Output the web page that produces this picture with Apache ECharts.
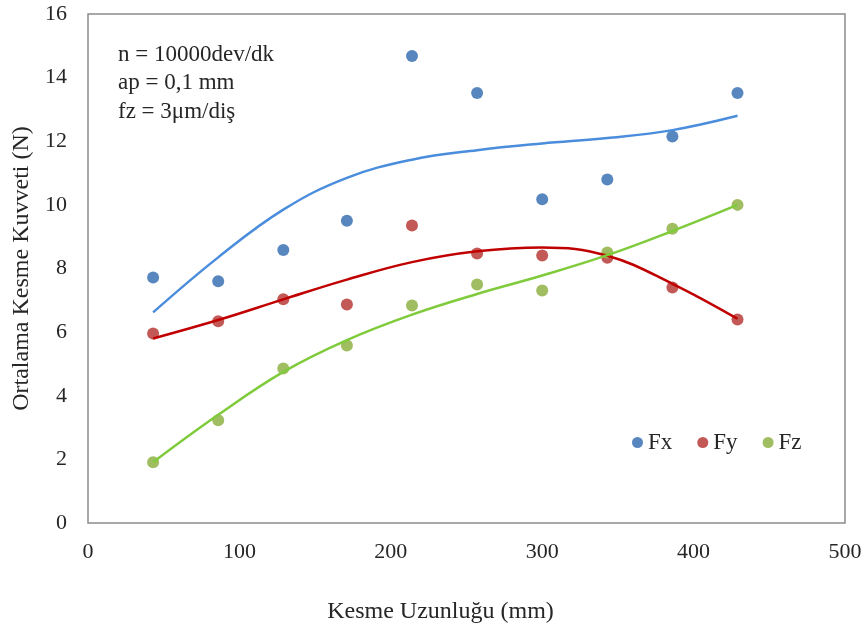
<!DOCTYPE html>
<html>
<head>
<meta charset="utf-8">
<script src="https://cdn.jsdelivr.net/npm/echarts@6/dist/echarts.min.js"></script>
<style>
  html, body { margin: 0; padding: 0; background: #fff; }
  #main { width: 866px; height: 629px; }
</style>
</head>
<body>
<div id="main"></div>
<script>
// cutting length (mm)
let lengths = [43, 86, 129, 171, 214, 257, 300, 343, 386, 429];

// measured mean forces (N)
let fx = [7.72, 7.60, 8.58, 9.50, 14.68, 13.52, 10.18, 10.80, 12.15, 13.52];
let fy = [5.96, 6.34, 7.03, 6.87, 9.35, 8.47, 8.41, 8.34, 7.40, 6.40];
let fz = [1.91, 3.23, 4.86, 5.58, 6.84, 7.50, 7.31, 8.50, 9.25, 10.00];

// trend curves, at the same lengths
let fxTrend = [6.62, 8.35, 9.85, 10.85, 11.42, 11.72, 11.93, 12.10, 12.35, 12.80];
let fyTrend = [5.80, 6.38, 7.03, 7.65, 8.20, 8.54, 8.66, 8.40, 7.52, 6.42];
let fzTrend = [1.91, 3.40, 4.75, 5.75, 6.55, 7.20, 7.78, 8.42, 9.18, 10.00];

let xTicks = [0, 100, 200, 300, 400, 500];
let yTicks = [0, 2, 4, 6, 8, 10, 12, 14, 16];

let notes = ['n = 10000dev/dk', 'ap = 0,1 mm', 'fz = 3\u03bcm/di\u015f'];

let pairs = function(xs, ys){
    let out = [];
    for (let i = 0; i < xs.length; i++) out.push([xs[i], ys[i]]);
    return out;
};

let font = '"Liberation Serif", "Times New Roman", serif';
let textColor = '#262626';

let chart = echarts.init(document.getElementById('main'), null, {renderer: 'canvas'});

let scatter = function(name, ys, color){
    return {
        name: name, type: 'scatter', data: pairs(lengths, ys),
        symbolSize: 12, z: 2,
        itemStyle: {color: color, opacity: 0.95}
    };
};
let trend = function(ys, color){
    return {
        type: 'line', data: pairs(lengths, ys), smooth: 0.4,
        showSymbol: false, symbol: 'none', z: 3, silent: true,
        lineStyle: {color: color, width: 2.5}
    };
};

let option = {
    animation: false,
    backgroundColor: '#fff',
    textStyle: {fontFamily: font},
    grid: {left: 88, right: 21, top: 14, bottom: 105, containLabel: false,
        show: true, borderColor: '#8c8c8c', borderWidth: 1.5},
    graphic: notes.map(function(t, i){
        return {type: 'text', left: 118, top: 43 + i * 28.5,
            style: {text: t, font: '23px ' + font, fill: textColor}};
    }),
    legend: {
        left: 627, top: 426, itemWidth: 11, itemHeight: 11, itemGap: 25,
        icon: 'circle',
        textStyle: {fontFamily: font, fontSize: 23, color: textColor},
        data: ['Fx', 'Fy', 'Fz']
    },
    xAxis: {
        type: 'value', min: 0, max: 500, interval: 100,
        name: 'Kesme Uzunlu\u011fu (mm)', nameLocation: 'middle', nameGap: 77,
        nameTextStyle: {fontFamily: font, fontSize: 24, color: textColor, padding: [0, 52, 0, 0]},
        axisLine: {show: false}, axisTick: {show: false}, splitLine: {show: false},
        axisLabel: {fontFamily: font, fontSize: 22, color: textColor, margin: 18,
            formatter: function(v){ return xTicks.indexOf(v) >= 0 ? String(v) : ''; }}
    },
    yAxis: {
        type: 'value', min: 0, max: 16, interval: 2,
        name: 'Ortalama Kesme Kuvveti (N)', nameLocation: 'middle', nameGap: 54,
        nameTextStyle: {fontFamily: font, fontSize: 24, color: textColor},
        axisLine: {show: false}, axisTick: {show: false}, splitLine: {show: false},
        axisLabel: {fontFamily: font, fontSize: 22, color: textColor, margin: 21,
            formatter: function(v){ return yTicks.indexOf(v) >= 0 ? String(v) : ''; }}
    },
    series: [
        scatter('Fx', fx, '#4F81BD'),
        scatter('Fy', fy, '#C0504D'),
        scatter('Fz', fz, '#9BBB59'),
        trend(fxTrend, '#4A8DDC'),
        trend(fyTrend, '#C00000'),
        trend(fzTrend, '#7FCB3C')
    ]
};
chart.setOption(option);
</script>
</body>
</html>
